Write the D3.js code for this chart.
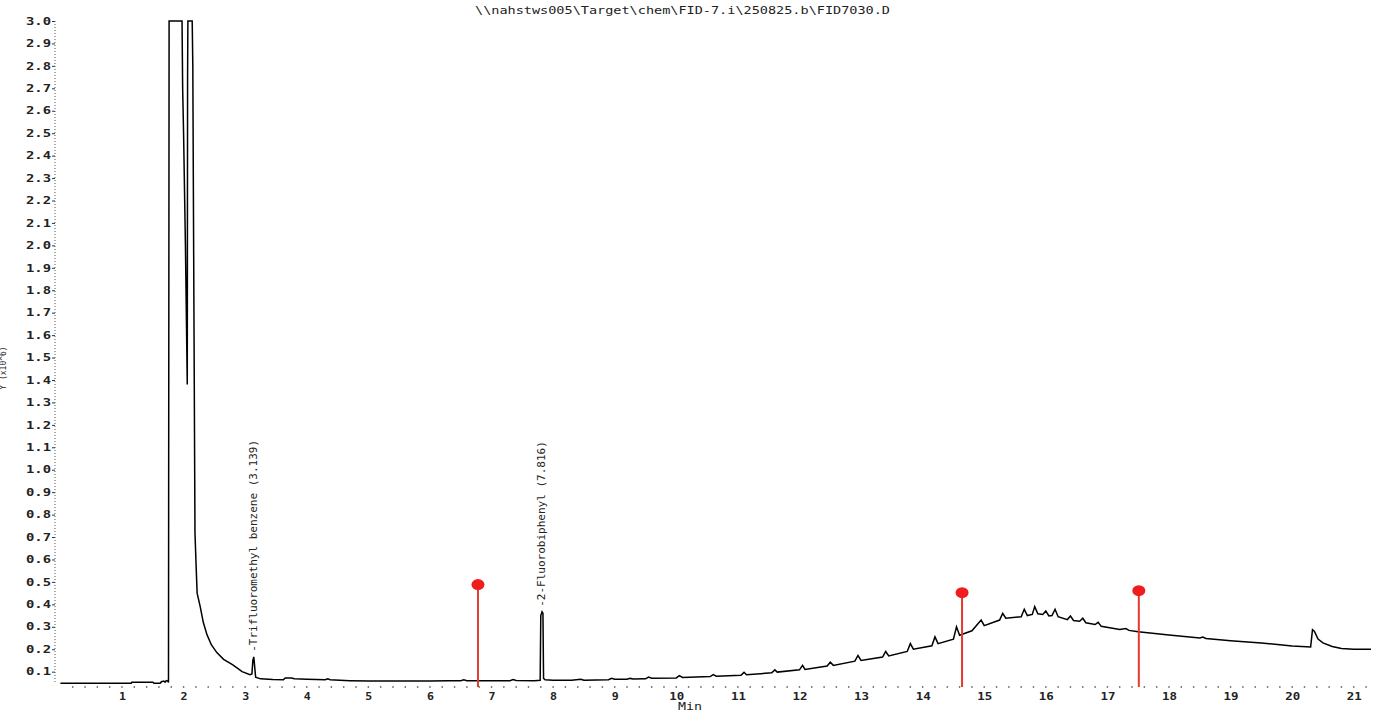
<!DOCTYPE html>
<html>
<head>
<meta charset="utf-8">
<script src="https://cdn.jsdelivr.net/npm/d3@7"></script>
<style>
  body { margin: 0; background: #fff; overflow: hidden; }
  text { font-family: "DejaVu Sans Mono", monospace; fill: #222; }
</style>
</head>
<body>
<div class="graph"></div>
<script>
const w = 1381;
const h = 713;

// data
const title = "\\\\nahstws005\\Target\\chem\\FID-7.i\\250825.b\\FID7030.D";
const xTicks = [1, 2, 3, 4, 5, 6, 7, 8, 9, 10, 11, 12, 13, 14, 15, 16, 17, 18, 19, 20, 21];
const yTicks = [0.1, 0.2, 0.3, 0.4, 0.5, 0.6, 0.7, 0.8, 0.9, 1.0, 1.1, 1.2, 1.3, 1.4, 1.5,
                1.6, 1.7, 1.8, 1.9, 2.0, 2.1, 2.2, 2.3, 2.4, 2.5, 2.6, 2.7, 2.8, 2.9, 3.0];

const peakNames = ["-Trifluoromethyl benzene (3.139)", "-2-Fluorobiphenyl (7.816)"];
const peakTimes = [3.139, 7.816];
const peakHeights = [0.166, 0.367];

const markerTimes = [6.78, 14.64, 17.51];
const markerTops = [0.488, 0.452, 0.461];

// [min, signal]
const trace = [
  [0, 0.048], [1.15, 0.048], [1.16, 0.053], [1.5, 0.053], [1.52, 0.048], [1.62, 0.048],
  [1.64, 0.055], [1.68, 0.058], [1.7, 0.053], [1.72, 0.06], [1.745, 0.058], [1.755, 0.052],
  [1.765, 3.0], [1.975, 3.0], [1.985, 2.7], [2.0, 2.5], [2.03, 2.0], [2.06, 1.38],
  [2.065, 2.75], [2.07, 3.0], [2.14, 3.0], [2.15, 2.8], [2.17, 1.6], [2.185, 0.72],
  [2.2, 0.6], [2.22, 0.45], [2.27, 0.39], [2.32, 0.32], [2.38, 0.265], [2.45, 0.22],
  [2.54, 0.185], [2.65, 0.155], [2.8, 0.13], [2.95, 0.1], [3.08, 0.087], [3.11, 0.09],
  [3.125, 0.15], [3.14, 0.166], [3.155, 0.12], [3.17, 0.075], [3.25, 0.068], [3.45, 0.065],
  [3.62, 0.064], [3.65, 0.072], [3.75, 0.072], [3.8, 0.068], [4.0, 0.066], [4.3, 0.064],
  [4.34, 0.068], [4.38, 0.064], [4.7, 0.06], [5.0, 0.058], [5.5, 0.058], [6.0, 0.058],
  [6.3, 0.06], [6.5, 0.06], [6.55, 0.064], [6.6, 0.06], [6.75, 0.06], [6.9, 0.06],
  [7.3, 0.06], [7.35, 0.065], [7.4, 0.061], [7.7, 0.06], [7.79, 0.062], [7.8, 0.35],
  [7.82, 0.367], [7.835, 0.36], [7.845, 0.07], [7.87, 0.064], [8.0, 0.062], [8.3, 0.062],
  [8.45, 0.066], [8.5, 0.062], [8.9, 0.064], [8.95, 0.07], [9.0, 0.066], [9.2, 0.066],
  [9.25, 0.07], [9.3, 0.067], [9.5, 0.068], [9.55, 0.076], [9.6, 0.071], [10.0, 0.072],
  [10.05, 0.082], [10.1, 0.074], [10.55, 0.078], [10.6, 0.087], [10.65, 0.08], [11.05, 0.084],
  [11.1, 0.097], [11.14, 0.086], [11.55, 0.095], [11.6, 0.108], [11.64, 0.098], [12.0, 0.108],
  [12.05, 0.128], [12.09, 0.11], [12.45, 0.125], [12.5, 0.142], [12.55, 0.128], [12.9, 0.147],
  [12.95, 0.172], [13.0, 0.15], [13.35, 0.165], [13.4, 0.19], [13.45, 0.17], [13.75, 0.19],
  [13.8, 0.225], [13.85, 0.2], [14.15, 0.215], [14.2, 0.255], [14.25, 0.225], [14.5, 0.245],
  [14.55, 0.3], [14.6, 0.262], [14.8, 0.282], [14.95, 0.33], [15.0, 0.305], [15.25, 0.33],
  [15.3, 0.36], [15.35, 0.338], [15.6, 0.345], [15.65, 0.378], [15.7, 0.35], [15.78, 0.355],
  [15.82, 0.39], [15.87, 0.358], [15.95, 0.355], [16.0, 0.37], [16.05, 0.348], [16.1, 0.35],
  [16.15, 0.378], [16.2, 0.345], [16.35, 0.332], [16.4, 0.348], [16.45, 0.328], [16.55, 0.325],
  [16.6, 0.338], [16.65, 0.318], [16.8, 0.31], [16.85, 0.32], [16.9, 0.302], [17.2, 0.288],
  [17.3, 0.292], [17.35, 0.284], [17.5, 0.278], [18.0, 0.263], [18.5, 0.25], [18.55, 0.254],
  [18.6, 0.248], [19.0, 0.238], [19.5, 0.228], [20.0, 0.214], [20.3, 0.21], [20.33, 0.287],
  [20.36, 0.28], [20.42, 0.245], [20.5, 0.228], [20.65, 0.212], [20.8, 0.203], [21.0, 0.2],
  [21.28, 0.2]
];

const xScale = d3.scaleLinear().domain([0, 21.28]).range([60.4, 1371]);
const yScale = d3.scaleLinear().domain([0, 3.0]).range([694.1, 21]);
const axisY = 687;
const axisX = 55;

const canvas = d3.select('.graph')
  .append("svg")
  .attr("width", w)
  .attr("height", h);

// title
canvas.append("text")
  .attr("x", 475)
  .attr("y", 14)
  .attr("textLength", 415)
  .attr("lengthAdjust", "spacingAndGlyphs")
  .style("font-size", "10px")
  .text(title);

// y axis
const yAxis = canvas.append("g")
  .attr("transform", `translate(${axisX},0)`)
  .call(d3.axisLeft(yScale).tickValues(yTicks).tickSize(3).tickPadding(1).tickFormat(d3.format(".1f")));
yAxis.select(".domain").remove();
yAxis.selectAll(".tick line").attr("stroke", "#333");
yAxis.selectAll(".tick text")
  .attr("textLength", 25)
  .attr("lengthAdjust", "spacingAndGlyphs")
  .style("font-size", "10px")
  .style("font-weight", "bold")
  .style("font-family", "'DejaVu Sans Mono', monospace")
  .attr("fill", "#333");

canvas.append("line")
  .attr("x1", axisX).attr("x2", axisX)
  .attr("y1", yScale(3.0)).attr("y2", axisY - 4)
  .attr("stroke", "#555")
  .attr("stroke-width", 1)
  .attr("stroke-dasharray", "1,2");

canvas.append("text")
  .attr("transform", `translate(6,368) rotate(-90)`)
  .attr("text-anchor", "middle")
  .style("font-size", "8px")
  .attr("fill", "#888")
  .text("Y (x10^6)");

// x axis: dotted minor ticks every 0.2 min
canvas.append("g")
  .selectAll("rect")
  .data(d3.range(0.2, 21.3, 0.2))
  .enter().append("rect")
  .attr("x", d => xScale(d) - 0.7)
  .attr("y", axisY - 0.7)
  .attr("width", 1.4)
  .attr("height", 1.4)
  .attr("fill", "#444");

const xAxis = canvas.append("g")
  .attr("transform", `translate(0,${axisY})`)
  .call(d3.axisBottom(xScale).tickValues(xTicks).tickSize(0).tickPadding(6));
xAxis.select(".domain").remove();
xAxis.selectAll(".tick text")
  .attr("textLength", d => d < 10 ? 7 : 15)
  .attr("lengthAdjust", "spacingAndGlyphs")
  .style("font-size", "10px")
  .style("font-weight", "bold")
  .style("font-family", "'DejaVu Sans Mono', monospace")
  .attr("fill", "#333");

canvas.append("text")
  .attr("x", 690)
  .attr("y", 710)
  .attr("text-anchor", "middle")
  .attr("textLength", 24)
  .attr("lengthAdjust", "spacingAndGlyphs")
  .style("font-size", "10px")
  .text("Min");

// chromatogram trace
const line = d3.line()
  .x(d => xScale(d[0]))
  .y(d => yScale(d[1]));

canvas.append("path")
  .datum(trace)
  .attr("fill", "none")
  .attr("stroke", "#000")
  .attr("stroke-width", 1.5)
  .attr("stroke-linejoin", "miter")
  .attr("d", line);

// peak labels
canvas.selectAll(".peak-label")
  .data(peakNames)
  .enter().append("text")
  .attr("class", "peak-label")
  .attr("transform", (d, i) => `translate(${xScale(peakTimes[i])},${yScale(peakHeights[i]) - 5}) rotate(-90)`)
  .attr("dominant-baseline", "central")
  .style("font-size", "11px")
  .attr("fill", "#222")
  .text(d => d);

// red markers
const markers = canvas.selectAll(".marker")
  .data(markerTimes)
  .enter().append("g")
  .attr("class", "marker");

markers.append("line")
  .attr("x1", d => xScale(d))
  .attr("x2", d => xScale(d))
  .attr("y1", (d, i) => yScale(markerTops[i]))
  .attr("y2", axisY)
  .attr("stroke", "#e33a30")
  .attr("stroke-width", 2);

markers.append("ellipse")
  .attr("cx", d => xScale(d))
  .attr("cy", (d, i) => yScale(markerTops[i]))
  .attr("rx", 6.5)
  .attr("ry", 5.5)
  .attr("fill", "#f01d1d");
</script>
</body>
</html>
